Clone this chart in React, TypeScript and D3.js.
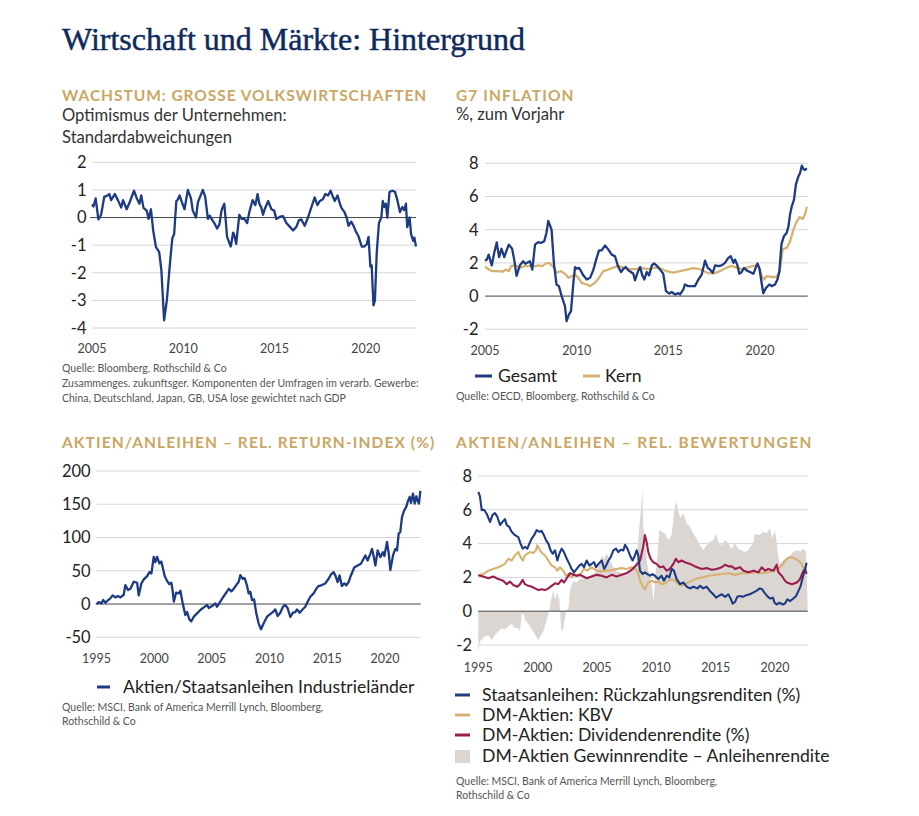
import React from "react";
import * as d3 from "d3";

type P = [number, number];

// ---------- DATA ----------
const optimismus: P[] = [
  [2005.0, 0.48], [2005.08, 0.4], [2005.2, 0.69], [2005.35, -0.07], [2005.5, 0.1], [2005.67, 0.75], [2005.85, 0.8], [2005.95, 0.85], [2006.05, 0.63], [2006.25, 0.85], [2006.42, 0.63], [2006.6, 0.36], [2006.7, 0.63], [2006.9, 0.3], [2007.08, 0.58], [2007.3, 0.97], [2007.45, 0.7], [2007.6, 0.5], [2007.7, 0.8], [2007.82, 0.35], [2008.0, 0.25], [2008.1, -0.05], [2008.23, 0.3], [2008.35, -0.46], [2008.5, -1.06], [2008.68, -1.25], [2008.8, -1.9], [2008.95, -3.72], [2009.1, -3.0], [2009.27, -1.67], [2009.4, -0.75], [2009.5, -0.6], [2009.62, 0.6], [2009.7, 0.65], [2009.8, 0.8], [2009.9, 0.6], [2010.07, 0.3], [2010.25, 1.0], [2010.42, 0.7], [2010.52, 0.25], [2010.7, 0.0], [2010.8, 0.55], [2011.07, 1.0], [2011.2, 0.76], [2011.35, -0.05], [2011.45, 0.07], [2011.55, -0.05], [2011.7, -0.2], [2011.85, -0.4], [2011.98, -0.25], [2012.1, 0.27], [2012.18, 0.4], [2012.25, 0.5], [2012.4, -0.7], [2012.6, -1.05], [2012.73, -0.55], [2012.78, -0.6], [2012.9, -0.95], [2013.07, 0.1], [2013.2, -0.05], [2013.35, -0.05], [2013.5, -0.2], [2013.62, 0.2], [2013.8, 0.63], [2013.95, 0.45], [2014.07, 0.85], [2014.17, 0.5], [2014.28, 0.35], [2014.37, 0.1], [2014.45, 0.28], [2014.65, 0.6], [2014.83, 0.3], [2014.98, 0.25], [2015.1, -0.05], [2015.3, 0.03], [2015.47, 0.05], [2015.65, -0.2], [2015.83, -0.33], [2016.02, -0.47], [2016.2, -0.33], [2016.33, -0.1], [2016.47, -0.07], [2016.65, -0.3], [2016.83, 0.0], [2017.02, 0.38], [2017.2, 0.73], [2017.35, 0.45], [2017.48, 0.6], [2017.65, 0.66], [2017.78, 0.85], [2017.93, 0.8], [2018.07, 0.97], [2018.2, 0.75], [2018.3, 0.6], [2018.45, 0.8], [2018.58, 0.5], [2018.68, 0.33], [2018.83, 0.2], [2018.95, 0.0], [2019.05, -0.3], [2019.2, -0.15], [2019.33, -0.3], [2019.45, -0.5], [2019.6, -0.68], [2019.78, -1.05], [2019.9, -1.05], [2020.05, -0.97], [2020.15, -0.7], [2020.25, -1.78], [2020.32, -1.73], [2020.42, -3.18], [2020.5, -3.0], [2020.6, -1.25], [2020.72, -0.2], [2020.85, 0.0], [2020.93, 0.6], [2021.02, 0.38], [2021.1, 0.5], [2021.18, 0.0], [2021.3, 0.93], [2021.45, 0.97], [2021.6, 0.93], [2021.73, 0.63], [2021.87, 0.2], [2022.0, 0.38], [2022.1, 0.27], [2022.2, 0.5], [2022.27, -0.35], [2022.4, 0.0], [2022.48, -0.6], [2022.6, -0.85], [2022.66, -0.73], [2022.75, -1.05]
];

const gesamt: P[] = [
  [2005.0, 2.13], [2005.1, 2.2], [2005.2, 2.5], [2005.37, 1.85], [2005.5, 2.6], [2005.64, 3.23], [2005.77, 2.35], [2005.9, 2.85], [2006.05, 2.35], [2006.18, 2.75], [2006.3, 3.1], [2006.48, 2.85], [2006.6, 2.15], [2006.72, 1.22], [2006.9, 1.85], [2007.08, 2.1], [2007.2, 1.95], [2007.45, 2.1], [2007.58, 1.6], [2007.73, 3.1], [2007.9, 3.25], [2008.05, 3.2], [2008.23, 3.3], [2008.35, 3.8], [2008.45, 4.53], [2008.63, 4.0], [2008.76, 1.95], [2008.9, 0.7], [2009.03, 0.6], [2009.18, 0.0], [2009.36, -0.6], [2009.45, -1.5], [2009.58, -1.1], [2009.69, -0.9], [2009.82, 0.8], [2009.91, 1.75], [2010.0, 1.65], [2010.13, 1.7], [2010.24, 1.5], [2010.36, 1.25], [2010.55, 1.0], [2010.73, 1.1], [2010.9, 1.55], [2011.09, 2.3], [2011.22, 2.75], [2011.36, 2.75], [2011.55, 3.05], [2011.73, 2.8], [2011.91, 2.5], [2012.09, 2.4], [2012.27, 1.75], [2012.42, 1.45], [2012.55, 1.65], [2012.67, 1.75], [2012.82, 1.55], [2012.96, 1.45], [2013.09, 1.35], [2013.18, 0.95], [2013.33, 1.45], [2013.46, 1.75], [2013.58, 1.25], [2013.69, 1.0], [2013.82, 1.45], [2013.95, 1.25], [2014.1, 1.85], [2014.22, 1.97], [2014.4, 1.8], [2014.58, 1.55], [2014.72, 1.35], [2014.87, 0.3], [2015.05, 0.15], [2015.18, 0.25], [2015.37, 0.1], [2015.55, 0.18], [2015.64, 0.1], [2015.82, 0.4], [2015.9, 0.7], [2016.08, 0.6], [2016.27, 0.6], [2016.45, 0.6], [2016.64, 1.0], [2016.82, 1.3], [2017.0, 2.13], [2017.15, 1.7], [2017.27, 1.6], [2017.42, 1.4], [2017.55, 1.85], [2017.73, 1.8], [2017.91, 1.85], [2018.09, 2.0], [2018.27, 2.3], [2018.4, 2.4], [2018.55, 2.0], [2018.64, 2.2], [2018.77, 1.85], [2018.87, 1.35], [2019.0, 1.45], [2019.13, 1.7], [2019.27, 1.55], [2019.45, 1.45], [2019.64, 1.35], [2019.86, 1.97], [2019.97, 1.65], [2020.1, 0.7], [2020.18, 0.17], [2020.33, 0.5], [2020.51, 0.7], [2020.64, 0.6], [2020.82, 0.7], [2020.95, 1.0], [2021.05, 1.45], [2021.17, 3.13], [2021.3, 3.6], [2021.45, 3.8], [2021.55, 4.2], [2021.64, 4.94], [2021.73, 5.4], [2021.85, 5.8], [2021.96, 6.75], [2022.09, 7.2], [2022.18, 7.4], [2022.28, 7.85], [2022.37, 7.65], [2022.46, 7.6], [2022.55, 7.7]
];

const kern: P[] = [
  [2005.0, 1.77], [2005.2, 1.62], [2005.4, 1.5], [2005.68, 1.5], [2005.95, 1.47], [2006.13, 1.6], [2006.3, 1.5], [2006.42, 1.8], [2006.64, 1.85], [2006.91, 1.72], [2007.18, 1.8], [2007.46, 1.8], [2007.73, 1.8], [2007.91, 1.85], [2008.13, 1.8], [2008.28, 1.95], [2008.51, 2.0], [2008.73, 1.75], [2008.9, 1.42], [2009.15, 1.5], [2009.36, 1.35], [2009.55, 1.1], [2009.73, 1.2], [2009.91, 1.3], [2010.09, 1.1], [2010.27, 0.8], [2010.55, 0.7], [2010.73, 0.6], [2011.0, 0.8], [2011.22, 1.1], [2011.45, 1.5], [2011.73, 1.6], [2012.0, 1.72], [2012.27, 1.82], [2012.55, 1.72], [2012.82, 1.62], [2013.18, 1.62], [2013.55, 1.68], [2013.91, 1.62], [2014.27, 1.72], [2014.55, 1.68], [2014.91, 1.5], [2015.27, 1.42], [2015.64, 1.5], [2016.0, 1.6], [2016.36, 1.68], [2016.73, 1.62], [2017.1, 1.42], [2017.46, 1.35], [2017.82, 1.5], [2018.18, 1.72], [2018.45, 1.82], [2018.73, 1.72], [2019.0, 1.62], [2019.27, 1.72], [2019.64, 1.82], [2019.91, 1.85], [2020.1, 1.2], [2020.22, 1.0], [2020.37, 1.2], [2020.64, 1.15], [2020.9, 1.15], [2021.08, 1.5], [2021.24, 2.83], [2021.46, 2.9], [2021.64, 3.3], [2021.82, 4.0], [2021.97, 4.43], [2022.15, 4.76], [2022.33, 4.65], [2022.46, 4.95], [2022.55, 5.38]
];

const returnIndex: P[] = [
  [1995.0, 0], [1995.2, 3], [1995.43, 1], [1995.58, 6], [1995.78, 2], [1995.95, 5], [1996.2, 8.5], [1996.4, 13], [1996.63, 10], [1996.86, 12], [1997.07, 10], [1997.36, 14], [1997.5, 28.5], [1997.73, 21], [1997.94, 23], [1998.23, 33.5], [1998.52, 32], [1998.66, 13], [1998.89, 31], [1999.1, 37], [1999.39, 42], [1999.59, 48], [1999.76, 46], [1999.96, 71], [2000.1, 63], [2000.25, 71], [2000.45, 61], [2000.62, 64], [2000.74, 55], [2000.91, 42], [2001.11, 35], [2001.31, 30], [2001.49, 32], [2001.6, 20], [2001.7, 3.5], [2001.9, 17], [2002.13, 16], [2002.27, 20], [2002.47, 1], [2002.7, -16.5], [2002.85, -12], [2003.05, -23], [2003.22, -26], [2003.43, -19], [2003.72, -14], [2004.0, -9], [2004.3, -5], [2004.59, -1.5], [2004.73, -6], [2005.02, -3], [2005.3, 1], [2005.45, -4], [2005.73, 3.5], [2006.0, 11], [2006.3, 18.5], [2006.46, 23], [2006.69, 19], [2006.89, 23], [2007.18, 30], [2007.32, 33], [2007.47, 43.5], [2007.67, 38], [2007.84, 39], [2008.04, 28], [2008.19, 16], [2008.33, 18.5], [2008.48, 6], [2008.66, 7], [2008.85, -14], [2009.05, -29], [2009.26, -38], [2009.49, -29], [2009.78, -19], [2010.06, -15], [2010.35, -11], [2010.5, -8], [2010.7, -18], [2010.93, -13], [2011.16, -4], [2011.36, -1.5], [2011.56, -6], [2011.8, -19.5], [2012.03, -13], [2012.23, -12], [2012.38, -8], [2012.61, -13], [2012.81, -9], [2013.1, -4], [2013.3, 3.5], [2013.53, 11], [2013.82, 16], [2014.05, 23], [2014.25, 27], [2014.54, 28.5], [2014.83, 31], [2015.12, 38], [2015.32, 44.5], [2015.55, 48], [2015.7, 43], [2015.9, 33], [2016.07, 43], [2016.27, 27], [2016.47, 31], [2016.65, 28], [2016.85, 33], [2017.05, 43], [2017.34, 55], [2017.63, 58], [2017.92, 60.5], [2018.15, 68], [2018.3, 73], [2018.5, 65.5], [2018.73, 75.5], [2018.88, 83], [2019.02, 72], [2019.17, 58], [2019.37, 80.5], [2019.6, 70.5], [2019.83, 78], [2019.95, 72], [2020.18, 93.5], [2020.33, 76], [2020.47, 51], [2020.7, 73], [2020.9, 83], [2021.05, 80.5], [2021.19, 106], [2021.33, 108], [2021.48, 131], [2021.68, 141], [2021.85, 146], [2021.97, 153.5], [2022.14, 161], [2022.26, 152], [2022.43, 166], [2022.58, 151], [2022.72, 162], [2022.84, 155], [2022.95, 151], [2023.07, 170]
];

const staatsanleihen: P[] = [
  [1995.0, 7.06], [1995.14, 6.8], [1995.29, 5.98], [1995.49, 6.0], [1995.71, 5.75], [1995.99, 5.28], [1996.2, 5.7], [1996.4, 5.8], [1996.6, 5.6], [1996.83, 5.1], [1997.05, 5.3], [1997.25, 5.45], [1997.39, 5.1], [1997.6, 5.0], [1997.81, 4.7], [1998.09, 4.5], [1998.37, 4.38], [1998.56, 4.0], [1998.74, 3.7], [1998.93, 3.8], [1999.13, 3.7], [1999.3, 4.0], [1999.5, 4.3], [1999.7, 4.5], [1999.92, 4.8], [2000.15, 4.7], [2000.34, 4.75], [2000.53, 4.5], [2000.7, 4.2], [2000.9, 4.0], [2001.09, 3.6], [2001.27, 3.4], [2001.46, 3.6], [2001.66, 3.0], [2001.83, 3.4], [2002.02, 3.7], [2002.22, 3.5], [2002.45, 3.1], [2002.67, 2.8], [2002.86, 2.5], [2003.06, 2.3], [2003.29, 2.5], [2003.51, 2.7], [2003.71, 2.8], [2003.9, 2.6], [2004.13, 3.0], [2004.36, 2.7], [2004.55, 2.8], [2004.75, 2.9], [2004.92, 2.6], [2005.12, 2.8], [2005.4, 3.0], [2005.6, 2.5], [2005.77, 2.7], [2005.96, 3.0], [2006.15, 3.2], [2006.38, 3.6], [2006.6, 3.7], [2006.8, 3.5], [2007.0, 3.64], [2007.22, 3.6], [2007.36, 3.93], [2007.56, 3.7], [2007.78, 3.3], [2008.0, 3.0], [2008.2, 3.3], [2008.34, 3.6], [2008.48, 3.3], [2008.62, 2.4], [2008.85, 2.2], [2009.04, 2.3], [2009.24, 2.2], [2009.46, 2.1], [2009.68, 2.2], [2009.88, 2.1], [2010.16, 1.9], [2010.44, 2.1], [2010.64, 1.8], [2010.87, 2.1], [2011.09, 2.0], [2011.29, 2.5], [2011.48, 2.4], [2011.71, 1.9], [2011.99, 1.6], [2012.27, 1.7], [2012.56, 1.45], [2012.84, 1.35], [2013.12, 1.45], [2013.46, 1.35], [2013.68, 1.5], [2013.95, 1.35], [2014.23, 1.45], [2014.51, 1.2], [2014.79, 1.0], [2015.04, 0.8], [2015.24, 0.9], [2015.52, 1.0], [2015.8, 0.85], [2016.06, 1.0], [2016.26, 0.75], [2016.43, 0.45], [2016.63, 0.55], [2016.82, 0.85], [2017.05, 0.9], [2017.3, 0.85], [2017.58, 0.95], [2017.87, 1.0], [2018.15, 1.1], [2018.43, 1.2], [2018.71, 1.35], [2018.91, 1.3], [2019.1, 1.1], [2019.4, 0.85], [2019.6, 0.75], [2019.82, 0.8], [2019.96, 0.5], [2020.14, 0.4], [2020.37, 0.5], [2020.65, 0.4], [2020.84, 0.45], [2021.03, 0.7], [2021.26, 0.6], [2021.54, 0.75], [2021.77, 0.9], [2021.97, 1.2], [2022.16, 1.5], [2022.33, 2.0], [2022.53, 2.5], [2022.66, 2.87]
];

const kbv: P[] = [
  [1995.0, 2.13], [1995.42, 2.2], [1995.84, 2.4], [1996.26, 2.5], [1996.68, 2.6], [1996.96, 2.7], [1997.24, 2.8], [1997.53, 3.1], [1997.81, 3.0], [1998.09, 3.3], [1998.37, 3.5], [1998.56, 3.2], [1998.74, 3.0], [1998.93, 3.3], [1999.13, 3.4], [1999.36, 3.5], [1999.64, 3.45], [1999.86, 3.6], [1999.97, 3.9], [2000.2, 3.6], [2000.42, 3.4], [2000.62, 3.3], [2000.9, 3.0], [2001.18, 2.7], [2001.46, 2.6], [2001.66, 2.4], [2001.88, 2.6], [2002.16, 2.4], [2002.39, 2.1], [2002.58, 2.2], [2002.86, 2.0], [2003.06, 2.2], [2003.34, 2.1], [2003.62, 2.2], [2003.9, 2.5], [2004.18, 2.4], [2004.55, 2.6], [2004.97, 2.4], [2005.39, 2.35], [2005.81, 2.4], [2006.23, 2.42], [2006.65, 2.5], [2007.07, 2.55], [2007.49, 2.5], [2007.9, 2.6], [2008.2, 2.5], [2008.48, 2.25], [2008.62, 1.8], [2008.85, 1.5], [2009.04, 1.3], [2009.18, 1.5], [2009.32, 1.7], [2009.64, 1.8], [2009.92, 1.7], [2010.2, 1.75], [2010.48, 1.6], [2010.76, 1.65], [2011.0, 1.8], [2011.32, 1.9], [2011.6, 1.8], [2011.88, 1.6], [2012.13, 1.5], [2012.42, 1.6], [2012.84, 1.75], [2013.26, 1.9], [2013.83, 2.0], [2014.4, 2.1], [2014.96, 2.15], [2015.51, 2.2], [2016.07, 2.25], [2016.63, 2.15], [2017.2, 2.25], [2017.76, 2.25], [2018.32, 2.3], [2018.88, 2.25], [2019.44, 2.3], [2020.0, 2.4], [2020.28, 2.5], [2020.56, 2.7], [2020.84, 3.0], [2021.12, 3.15], [2021.4, 3.2], [2021.68, 3.1], [2021.96, 3.0], [2022.23, 2.8], [2022.43, 2.5], [2022.66, 2.6]
];

const dividende: P[] = [
  [1995.0, 2.13], [1995.42, 2.05], [1995.84, 1.95], [1996.26, 2.05], [1996.68, 1.9], [1997.1, 1.8], [1997.39, 1.6], [1997.67, 1.75], [1997.95, 1.55], [1998.29, 1.45], [1998.51, 1.6], [1998.74, 1.85], [1998.93, 1.6], [1999.22, 1.5], [1999.5, 1.45], [1999.78, 1.35], [2000.06, 1.25], [2000.34, 1.3], [2000.62, 1.25], [2000.9, 1.35], [2001.18, 1.5], [2001.46, 1.65], [2001.74, 1.6], [2002.02, 1.85], [2002.22, 1.7], [2002.45, 1.95], [2002.73, 2.25], [2003.01, 2.15], [2003.29, 2.1], [2003.57, 2.15], [2003.85, 2.05], [2004.13, 1.95], [2004.55, 2.05], [2004.97, 2.15], [2005.39, 2.1], [2005.81, 2.0], [2006.23, 2.15], [2006.65, 2.05], [2007.07, 2.15], [2007.5, 2.25], [2007.92, 2.45], [2008.35, 2.75], [2008.63, 3.0], [2008.9, 3.85], [2009.04, 4.5], [2009.18, 4.1], [2009.32, 3.5], [2009.52, 3.1], [2009.74, 2.9], [2010.02, 2.8], [2010.3, 2.6], [2010.58, 2.65], [2010.86, 2.4], [2011.14, 2.5], [2011.43, 2.8], [2011.65, 3.1], [2011.85, 2.9], [2012.13, 3.0], [2012.41, 2.9], [2012.84, 2.8], [2013.26, 2.65], [2013.83, 2.5], [2014.23, 2.55], [2014.66, 2.45], [2015.08, 2.5], [2015.51, 2.6], [2015.79, 2.75], [2016.07, 2.65], [2016.35, 2.65], [2016.63, 2.5], [2017.05, 2.6], [2017.34, 2.4], [2017.76, 2.3], [2018.18, 2.4], [2018.6, 2.3], [2018.88, 2.6], [2019.16, 2.4], [2019.44, 2.5], [2019.86, 2.4], [2020.14, 2.75], [2020.28, 2.3], [2020.56, 2.1], [2020.84, 1.8], [2021.0, 1.7], [2021.42, 1.6], [2021.84, 1.7], [2022.1, 1.9], [2022.33, 2.3], [2022.53, 2.5], [2022.66, 2.2]
];

const gewinnMinusAnleihe: P[] = [
  [1995.0, -2.4], [1995.14, -1.8], [1995.36, -1.6], [1995.56, -1.5], [1995.84, -1.4], [1996.12, -1.7], [1996.4, -1.4], [1996.68, -1.2], [1996.97, -1.0], [1997.25, -1.1], [1997.53, -0.9], [1997.81, -0.75], [1998.09, -1.0], [1998.37, -1.0], [1998.51, -1.2], [1998.65, -0.2], [1998.79, -0.1], [1998.93, -0.5], [1999.22, -0.75], [1999.5, -1.05], [1999.78, -1.4], [2000.06, -1.7], [2000.2, -1.5], [2000.48, -1.2], [2000.76, -0.5], [2000.98, 0.0], [2001.12, 0.7], [2001.32, 1.2], [2001.46, 0.7], [2001.66, 1.1], [2001.83, 0.7], [2001.97, -1.0], [2002.11, -1.2], [2002.3, -0.4], [2002.44, 0.1], [2002.58, 0.1], [2002.73, 1.3], [2003.01, 1.8], [2003.29, 1.7], [2003.57, 1.9], [2003.85, 1.9], [2004.13, 2.0], [2004.41, 2.1], [2004.69, 2.2], [2004.97, 2.4], [2005.25, 3.0], [2005.39, 3.3], [2005.59, 3.1], [2005.81, 3.4], [2006.1, 3.0], [2006.37, 2.6], [2006.65, 2.4], [2006.93, 2.3], [2007.22, 2.2], [2007.5, 2.1], [2007.78, 2.4], [2008.06, 2.6], [2008.34, 3.0], [2008.57, 5.0], [2008.7, 6.0], [2008.82, 7.15], [2008.9, 5.0], [2009.04, 4.2], [2009.2, 3.0], [2009.32, 2.4], [2009.46, 2.2], [2009.64, 1.4], [2009.78, 0.6], [2009.92, 2.2], [2010.06, 3.0], [2010.24, 4.8], [2010.44, 4.7], [2010.72, 4.6], [2011.0, 4.2], [2011.28, 4.5], [2011.48, 5.8], [2011.65, 6.5], [2011.85, 5.9], [2012.05, 5.5], [2012.27, 5.8], [2012.55, 5.2], [2012.83, 5.0], [2013.11, 4.6], [2013.39, 4.3], [2013.67, 3.9], [2013.95, 3.6], [2014.23, 3.9], [2014.51, 4.1], [2014.79, 4.2], [2015.02, 4.6], [2015.21, 4.1], [2015.5, 3.9], [2015.78, 4.2], [2016.06, 4.0], [2016.34, 3.7], [2016.62, 4.0], [2016.9, 3.7], [2017.18, 3.6], [2017.46, 3.5], [2017.74, 3.6], [2018.02, 3.9], [2018.16, 4.0], [2018.3, 4.6], [2018.58, 4.5], [2018.86, 4.6], [2019.0, 4.7], [2019.28, 4.6], [2019.56, 4.9], [2019.78, 4.3], [2019.98, 4.8], [2020.12, 4.2], [2020.26, 3.2], [2020.4, 2.8], [2020.7, 3.0], [2020.98, 3.2], [2021.26, 3.3], [2021.54, 3.5], [2021.82, 3.6], [2022.1, 3.55], [2022.39, 3.7], [2022.61, 3.5], [2022.74, 0.35]
];

const ticks1 = [2, 1, 0, -1, -2, -3, -4];
const ticks2 = [8, 6, 4, 2, 0, -2];
const ticks3 = [200, 150, 100, 50, 0, -50];
const ticks4 = [8, 6, 4, 2, 0, -2];
const years2005 = [2005, 2010, 2015, 2020];
const years1995 = [1995, 2000, 2005, 2010, 2015, 2020];

// ---------- STYLE ----------
const SANS = "Lato, 'Noto Sans', sans-serif";
const BLUE = "#1d3b83";
const GOLD = "#d6b271";
const CRIMSON = "#9c1c4d";
const FILL = "#dcd6d2";
const HEAD = "#c9a764";
const TXT = "#222";
const GRID = "#d6d6d6";

interface PanelProps {
  xDomain: [number, number];
  xRange: [number, number];
  yDomain: [number, number];
  yRange: [number, number];
  yTicks: number[];
  xTicks: number[];
  yLabelX: number;
  xLabelY: number;
  children: (x: d3.ScaleLinear<number, number>, y: d3.ScaleLinear<number, number>) => React.ReactNode;
}

function Panel(p: PanelProps) {
  const x = d3.scaleLinear().domain(p.xDomain).range(p.xRange);
  const y = d3.scaleLinear().domain(p.yDomain).range(p.yRange);
  const [gx0, gx1] = p.xRange;
  return (
    <g>
      {p.yTicks.filter((t) => t !== 0).map((t) => (
        <line key={"g" + t} x1={gx0} x2={gx1} y1={y(t)} y2={y(t)} stroke={GRID} strokeWidth={1} />
      ))}
      {p.yTicks.map((t) => (
        <text key={"yl" + t} x={p.yLabelX} y={y(t) + 5.8} textAnchor="end" fontFamily={SANS} fontSize={16.5} fill={TXT}>
          {t}
        </text>
      ))}
      {p.xTicks.map((t) => (
        <text key={"xl" + t} x={x(t)} y={p.xLabelY} textAnchor="middle" fontFamily={SANS} fontSize={12.5} fill="#444">
          {t}
        </text>
      ))}
      {p.children(x, y)}
    </g>
  );
}

function ZeroLine({ x0, x1, y }: { x0: number; x1: number; y: number }) {
  return <line x1={x0} x2={x1} y1={y} y2={y} stroke="#444" strokeWidth={1} />;
}

function pathOf(data: P[], x: d3.ScaleLinear<number, number>, y: d3.ScaleLinear<number, number>) {
  return d3.line<P>().x((d) => x(d[0])).y((d) => y(d[1]))(data) || "";
}

function areaOf(data: P[], x: d3.ScaleLinear<number, number>, y: d3.ScaleLinear<number, number>) {
  return d3.area<P>().x((d) => x(d[0])).y0(y(0)).y1((d) => y(d[1]))(data) || "";
}

const Head = ({ x, y, ls = 1.1, children }: { x: number; y: number; ls?: number; children: React.ReactNode }) => (
  <text x={x} y={y} fontFamily={SANS} fontWeight={700} fontSize={15.5} letterSpacing={ls} fill={HEAD}>
    {children}
  </text>
);
const Sub = ({ x, y, children }: { x: number; y: number; children: React.ReactNode }) => (
  <text x={x} y={y} fontFamily={SANS} fontSize={16.6} fill="#333">
    {children}
  </text>
);
const Note = ({ x, y, children }: { x: number; y: number; children: React.ReactNode }) => (
  <text x={x} y={y} fontFamily={SANS} fontSize={10.5} fill="#555">
    {children}
  </text>
);
const Leg = ({ x, y, children }: { x: number; y: number; children: React.ReactNode }) => (
  <text x={x} y={y} fontFamily={SANS} fontSize={17.6} fill="#222">
    {children}
  </text>
);

export default function App() {
  return (
    <svg width={919} height={816} style={{ position: "absolute", left: 0, top: 0, background: "#fff" }}>
      <rect width={919} height={816} fill="#fff" />
      <text x={62} y={50} fontFamily="'Liberation Serif', 'DejaVu Serif', serif" fontSize={32} fill="#0e2a5c" stroke="#0e2a5c" strokeWidth={0.45}>
        Wirtschaft und Märkte: Hintergrund
      </text>

      {/* Chart 1 */}
      <Head x={62} y={101} ls={0.95}>WACHSTUM: GROSSE VOLKSWIRTSCHAFTEN</Head>
      <Sub x={62} y={121}>Optimismus der Unternehmen:</Sub>
      <Sub x={62} y={143}>Standardabweichungen</Sub>
      <Panel xDomain={[2005, 2022.75]} xRange={[92, 416]} yDomain={[2, -4]} yRange={[162.3, 328]} yTicks={ticks1} xTicks={years2005} yLabelX={86.5} xLabelY={353}>
        {(x, y) => (
          <g>
            <ZeroLine x0={90} x1={416} y={y(0)} />
            <path d={pathOf(optimismus, x, y)} fill="none" stroke={BLUE} strokeWidth={2.3} strokeLinejoin="round" />
          </g>
        )}
      </Panel>
      <Note x={62} y={372}>Quelle: Bloomberg, Rothschild &amp; Co</Note>
      <Note x={62} y={387}>Zusammenges. zukunftsger. Komponenten der Umfragen im verarb. Gewerbe:</Note>
      <Note x={62} y={402}>China, Deutschland, Japan, GB, USA lose gewichtet nach GDP</Note>

      {/* Chart 2 */}
      <Head x={456} y={101}>G7 INFLATION</Head>
      <Sub x={456} y={120}>%, zum Vorjahr</Sub>
      <Panel xDomain={[2005, 2022.6]} xRange={[485, 807.7]} yDomain={[8, -2]} yRange={[163.3, 329.3]} yTicks={ticks2} xTicks={years2005} yLabelX={478.5} xLabelY={355}>
        {(x, y) => (
          <g>
            <ZeroLine x0={485} x1={807.7} y={y(0)} />
            <path d={pathOf(kern, x, y)} fill="none" stroke={GOLD} strokeWidth={2.3} strokeLinejoin="round" />
            <path d={pathOf(gesamt, x, y)} fill="none" stroke={BLUE} strokeWidth={2.3} strokeLinejoin="round" />
          </g>
        )}
      </Panel>
      <line x1={475} x2={492} y1={376} y2={376} stroke={BLUE} strokeWidth={3} />
      <Leg x={498} y={382}>Gesamt</Leg>
      <line x1={583} x2={600} y1={376} y2={376} stroke={GOLD} strokeWidth={3} />
      <Leg x={605} y={382}>Kern</Leg>
      <Note x={456} y={400}>Quelle: OECD, Bloomberg, Rothschild &amp; Co</Note>

      {/* Chart 3 */}
      <Head x={62} y={448}>AKTIEN/ANLEIHEN – REL. RETURN-INDEX (%)</Head>
      <Panel xDomain={[1995, 2023.1]} xRange={[96.5, 420.7]} yDomain={[200, -50]} yRange={[471, 637.3]} yTicks={ticks3} xTicks={years1995} yLabelX={90.7} xLabelY={663}>
        {(x, y) => (
          <g>
            <ZeroLine x0={95.7} x1={420.7} y={y(0)} />
            <path d={pathOf(returnIndex, x, y)} fill="none" stroke={BLUE} strokeWidth={2.3} strokeLinejoin="round" />
          </g>
        )}
      </Panel>
      <line x1={97} x2={110} y1={687} y2={687} stroke={BLUE} strokeWidth={3} />
      <Leg x={123} y={693}>Aktien/Staatsanleihen Industrieländer</Leg>
      <Note x={62} y={711}>Quelle: MSCI, Bank of America Merrill Lynch, Bloomberg,</Note>
      <Note x={62} y={725}>Rothschild &amp; Co</Note>

      {/* Chart 4 */}
      <Head x={456} y={448} ls={1.4}>AKTIEN/ANLEIHEN – REL. BEWERTUNGEN</Head>
      <Panel xDomain={[1995, 2022.75]} xRange={[478.3, 807.7]} yDomain={[8, -2]} yRange={[476, 645]} yTicks={ticks4} xTicks={years1995} yLabelX={472} xLabelY={672}>
        {(x, y) => (
          <g>
            <path d={areaOf(gewinnMinusAnleihe, x, y)} fill={FILL} stroke="none" />
            <ZeroLine x0={478} x1={807.7} y={y(0)} />
            <path d={pathOf(kbv, x, y)} fill="none" stroke={GOLD} strokeWidth={2.1} strokeLinejoin="round" />
            <path d={pathOf(dividende, x, y)} fill="none" stroke={CRIMSON} strokeWidth={2.1} strokeLinejoin="round" />
            <path d={pathOf(staatsanleihen, x, y)} fill="none" stroke={BLUE} strokeWidth={2.1} strokeLinejoin="round" />
          </g>
        )}
      </Panel>
      <line x1={455} x2={470} y1={695} y2={695} stroke={BLUE} strokeWidth={3} />
      <Leg x={482} y={701}>Staatsanleihen: Rückzahlungsrenditen (%)</Leg>
      <line x1={455} x2={470} y1={715} y2={715} stroke={GOLD} strokeWidth={3} />
      <Leg x={482} y={721}>DM-Aktien: KBV</Leg>
      <line x1={455} x2={470} y1={735} y2={735} stroke={CRIMSON} strokeWidth={3} />
      <Leg x={482} y={741}>DM-Aktien: Dividendenrendite (%)</Leg>
      <rect x={455} y={750} width={15} height={13} fill={FILL} />
      <Leg x={482} y={762}>DM-Aktien Gewinnrendite – Anleihenrendite</Leg>
      <Note x={456} y={785}>Quelle: MSCI, Bank of America Merrill Lynch, Bloomberg,</Note>
      <Note x={456} y={799}>Rothschild &amp; Co</Note>
    </svg>
  );
}
